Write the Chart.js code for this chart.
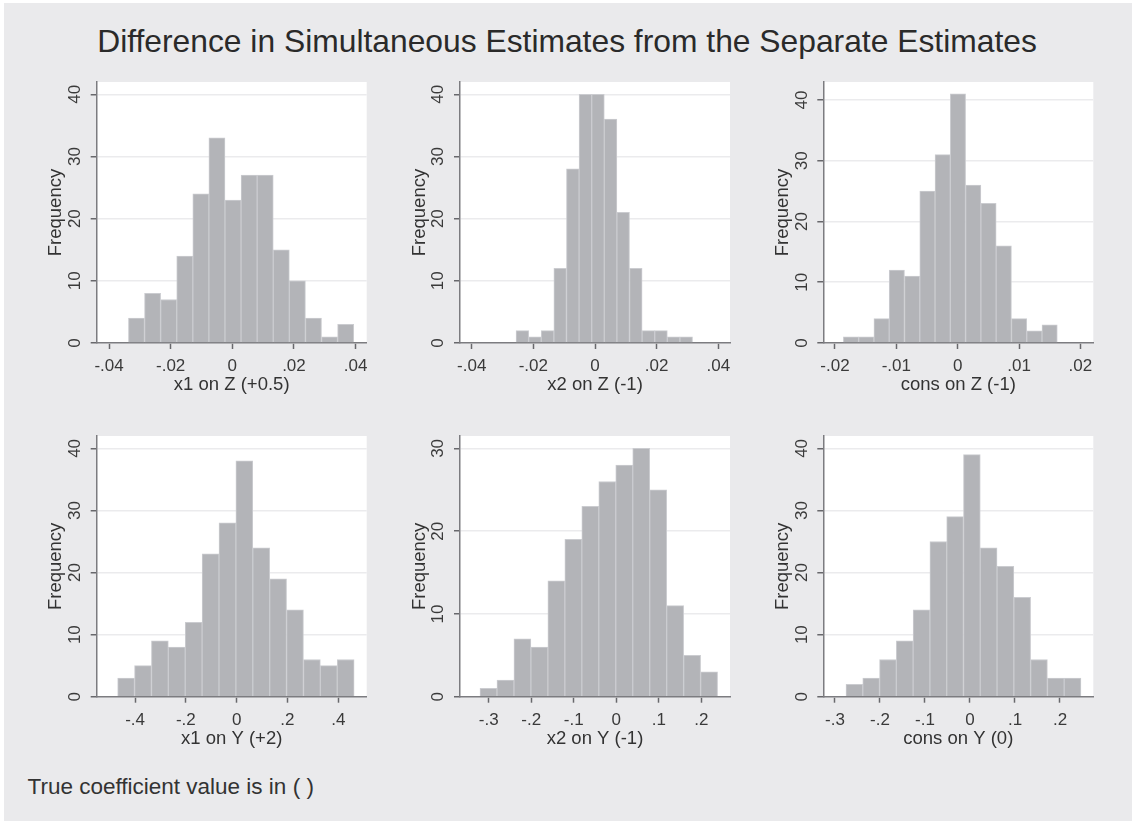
<!DOCTYPE html>
<html><head><meta charset="utf-8">
<script src="https://cdn.jsdelivr.net/npm/chart.js@4.4.0/dist/chart.umd.min.js"></script>
<style>
html,body{margin:0;padding:0;background:#fff;width:1132px;height:821px;overflow:hidden;}
#page{position:absolute;left:4px;top:3px;width:1128px;height:818px;background:#eaeaec;}
canvas{position:absolute;}
#title{position:absolute;left:0;top:26.4px;width:1134px;text-align:center;font-family:"Liberation Sans",Arial,sans-serif;font-size:31.8px;line-height:31.8px;color:#2a2a2a;white-space:nowrap;}
#note{position:absolute;left:27.5px;top:776px;font-family:"Liberation Sans",Arial,sans-serif;font-size:22.5px;line-height:22.5px;color:#333;white-space:nowrap;}
</style>
</head>
<body>
<div id="page"></div>
<div id="title">Difference in Simultaneous Estimates from the Separate Estimates</div>
<div id="note">True coefficient value is in ( )</div>
<canvas id="c1"></canvas><canvas id="c2"></canvas><canvas id="c3"></canvas>
<canvas id="c4"></canvas><canvas id="c5"></canvas><canvas id="c6"></canvas>
<script>
// ---- Data ----
// bin centers and frequencies (200 draws each)
const binsX1Z = [-0.03109,-0.02587,-0.02065,-0.01543,-0.01021,-0.00499,0.00023,0.00545,0.01067,0.01589,0.02111,0.02633,0.03155,0.03677];
const freqX1Z = [4,8,7,14,24,33,23,27,27,15,10,4,1,3];

const binsX2Z = [-0.02357,-0.01948,-0.01539,-0.01130,-0.00721,-0.00312,0.00097,0.00506,0.00915,0.01324,0.01733,0.02142,0.02551,0.02960];
const freqX2Z = [2,1,2,12,28,40,40,36,21,12,2,2,1,1];

const binsConsZ = [-0.017385,-0.014895,-0.012405,-0.009915,-0.007425,-0.004935,-0.002445,0.000045,0.002535,0.005025,0.007515,0.010005,0.012495,0.014985];
const freqConsZ = [1,1,4,12,11,25,31,41,26,23,16,4,2,3];

const binsX1Y = [-0.43525,-0.36875,-0.30225,-0.23575,-0.16925,-0.10275,-0.03625,0.03025,0.09675,0.16325,0.22975,0.29625,0.36275,0.42925];
const freqX1Y = [3,5,9,8,12,23,28,38,24,19,14,6,5,6];

const binsX2Y = [-0.30055,-0.26065,-0.22075,-0.18085,-0.14095,-0.10105,-0.06115,-0.02125,0.01865,0.05855,0.09845,0.13835,0.17825,0.21815];
const freqX2Y = [1,2,7,6,14,19,23,26,28,30,25,11,5,3];

const binsConsY = [-0.25695,-0.21965,-0.18235,-0.14505,-0.10775,-0.07045,-0.03315,0.00415,0.04145,0.07875,0.11605,0.15335,0.19065,0.22795];
const freqConsY = [2,3,6,9,14,25,29,39,24,21,16,6,3,3];

// tick values and labels
const xTicksZ = [-0.04,-0.02,0,0.02,0.04];
const xLabelsZ = ['-.04','-.02','0','.02','.04'];
const xTicksConsZ = [-0.02,-0.01,0,0.01,0.02];
const xLabelsConsZ = ['-.02','-.01','0','.01','.02'];
const xTicksX1Y = [-0.4,-0.2,0,0.2,0.4];
const xLabelsX1Y = ['-.4','-.2','0','.2','.4'];
const xTicksY3 = [-0.3,-0.2,-0.1,0,0.1,0.2];
const xLabelsY3 = ['-.3','-.2','-.1','0','.1','.2'];
const yTicks40 = [0,10,20,30,40];
const yLabels40 = ['0','10','20','30','40'];
const yTicks30 = [0,10,20,30];
const yLabels30 = ['0','10','20','30'];

const xTitles = ['x1 on Z (+0.5)','x2 on Z (-1)','cons on Z (-1)','x1 on Y (+2)','x2 on Y (-1)','cons on Y (0)'];
const yTitle = 'Frequency';

// ---- Layout ----
const FONT = "'Liberation Sans', Arial, sans-serif";
const panels = [
  {id:'c1', ca:{l:96.7,r:366.7,t:82,b:343}, xMin:-0.044, xMax:0.0436, yMax:41.98, centers:binsX1Z, counts:freqX1Z, xTicks:xTicksZ, xLabels:xLabelsZ, yTicks:yTicks40, yLabels:yLabels40, title:xTitles[0]},
  {id:'c2', ca:{l:460,r:730,t:82,b:343}, xMin:-0.0438, xMax:0.0438, yMax:41.98, centers:binsX2Z, counts:freqX2Z, xTicks:xTicksZ, xLabels:xLabelsZ, yTicks:yTicks40, yLabels:yLabels40, title:xTitles[1]},
  {id:'c3', ca:{l:823.3,r:1093.3,t:82,b:343}, xMin:-0.0219, xMax:0.0221, yMax:42.96, centers:binsConsZ, counts:freqConsZ, xTicks:xTicksConsZ, xLabels:xLabelsConsZ, yTicks:yTicks40, yLabels:yLabels40, title:xTitles[2]},
  {id:'c4', ca:{l:96.7,r:366.7,t:436,b:696.7}, xMin:-0.551, xMax:0.512, yMax:42.0, centers:binsX1Y, counts:freqX1Y, xTicks:xTicksX1Y, xLabels:xLabelsX1Y, yTicks:yTicks40, yLabels:yLabels40, title:xTitles[3]},
  {id:'c5', ca:{l:460,r:730,t:436,b:696.7}, xMin:-0.3675, xMax:0.2673, yMax:31.5, centers:binsX2Y, counts:freqX2Y, xTicks:xTicksY3, xLabels:xLabelsY3, yTicks:yTicks30, yLabels:yLabels30, title:xTitles[4]},
  {id:'c6', ca:{l:823.3,r:1093.3,t:436,b:696.7}, xMin:-0.326, xMax:0.274, yMax:42.0, centers:binsConsY, counts:freqConsY, xTicks:xTicksY3, xLabels:xLabelsY3, yTicks:yTicks40, yLabels:yLabels40, title:xTitles[5]}
];

const plotBg = {
  id:'plotBg',
  beforeDraw(chart){
    const {ctx, chartArea:a} = chart;
    ctx.save(); ctx.fillStyle = '#ffffff';
    ctx.fillRect(a.left, a.top, a.right - a.left, a.bottom - a.top);
    ctx.restore();
  }
};

const TICK_FS = 17, TITLE_FS = 18.5, TITLE_LH = TITLE_FS * 1.2;

function makePanel(p){
  const cLeft = Math.floor(p.ca.l - 67);
  const cTop = Math.floor(p.ca.t - 24);
  const cRight = Math.ceil(p.ca.r + 24);
  const cBottom = Math.ceil(p.ca.b + 56);
  const W = p.ca.l - cLeft;
  const Hx = cBottom - p.ca.b;
  const cv = document.getElementById(p.id);
  cv.width = cRight - cLeft; cv.height = cBottom - cTop;
  cv.style.left = cLeft + 'px'; cv.style.top = cTop + 'px';
  cv.style.width = (cRight - cLeft) + 'px'; cv.style.height = (cBottom - cTop) + 'px';
  new Chart(cv, {
    type:'bar',
    data:{datasets:[{
      data: p.centers.map((c,i)=>({x:c, y:p.counts[i]})),
      backgroundColor:'#b3b4b8', borderColor:'#cbccd0', borderWidth:1,
      categoryPercentage:1, barPercentage:1
    }]},
    options:{
      responsive:false, animation:false, devicePixelRatio:1,
      layout:{padding:{left:0, top:p.ca.t - cTop, right:cRight - p.ca.r, bottom:0}},
      plugins:{legend:{display:false}, tooltip:{enabled:false}},
      scales:{
        x:{
          type:'linear', min:p.xMin, max:p.xMax, offset:false, z:1,
          grid:{display:true, offset:false, drawOnChartArea:false, drawTicks:true, tickLength:6, tickColor:'#68686c', tickWidth:1.5},
          border:{display:true, color:'#7c7c80', width:1.5},
          ticks:{font:{family:FONT, size:TICK_FS}, color:'#3a3a3a', padding:7, minRotation:0, maxRotation:0, autoSkip:false,
                 callback:(v,i)=>p.xLabels[i]},
          afterBuildTicks:(s)=>{ s.ticks = p.xTicks.map(v=>({value:v})); },
          afterFit:(s)=>{ s.height = Hx; },
          title:{display:true, text:p.title, font:{family:FONT, size:TITLE_FS}, color:'#333',
                 padding:{top:0, bottom:Hx - 42 - TITLE_LH/2}}
        },
        y:{
          type:'linear', min:0, max:p.yMax,
          grid:{color:'#ebebed', lineWidth:1.5, drawTicks:true, tickLength:6, tickColor:'#68686c', tickWidth:1.5},
          border:{display:true, color:'#7c7c80', width:1.5},
          ticks:{font:{family:FONT, size:TICK_FS}, color:'#3a3a3a', padding:6, minRotation:90, maxRotation:90, crossAlign:'center', autoSkip:false,
                 callback:(v,i)=>p.yLabels[i]},
          afterBuildTicks:(s)=>{ s.ticks = p.yTicks.map(v=>({value:v})); },
          afterFit:(s)=>{ s.width = W; },
          title:{display:true, text:yTitle, font:{family:FONT, size:TITLE_FS}, color:'#333',
                 padding:{top:W - 40.5 - TITLE_LH/2, bottom:0}}
        }
      }
    },
    plugins:[plotBg]
  });
}
panels.forEach(makePanel);
</script>
</body></html>
